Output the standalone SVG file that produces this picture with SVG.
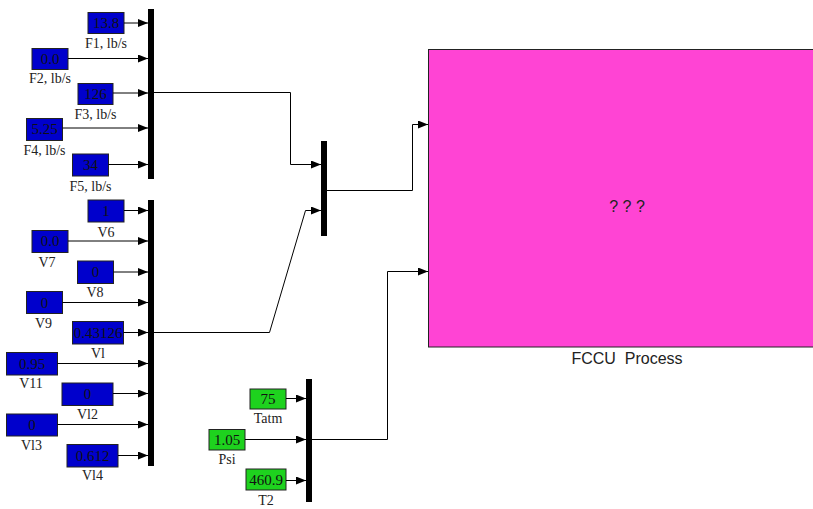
<svg xmlns="http://www.w3.org/2000/svg" width="813" height="509" viewBox="0 0 813 509">
<style>
.bl{fill:#0000CC;stroke:#222;stroke-width:1}
.gr{fill:#1ED21E;stroke:#222;stroke-width:1}
.bar{fill:#000}
.v{font-family:"Liberation Serif",serif;font-size:15px;fill:#111;text-anchor:middle}
.lb{font-family:"Liberation Serif",serif;font-size:14px;fill:#222;text-anchor:middle}
.ln{fill:none;stroke:#000;stroke-width:1}
.ar{marker-end:url(#ah)}
.sn{font-family:"Liberation Sans",Arial,sans-serif;font-size:16px;fill:#222;text-anchor:middle;white-space:pre}
</style>
<defs>
<marker id="ah" markerUnits="userSpaceOnUse" markerWidth="10" markerHeight="8" refX="10" refY="4" orient="auto">
<path d="M0,0 L10,4 L0,8 Z" fill="#000"/>
</marker>
</defs>
<rect width="813" height="509" fill="#fff"/>

<g id="process">
<rect x="428.5" y="49.5" width="400" height="297.5" fill="#FF44D4" stroke="#222" stroke-width="1"/>
<text class="sn" x="627" y="212">? ? ?</text>
<text class="sn" x="627" y="364">FCCU  Process</text>
</g>

<g id="mux1"><rect class="bar" x="148" y="9" width="6" height="170"/></g>
<g id="mux2"><rect class="bar" x="148" y="200" width="6" height="266"/></g>
<g id="mux3"><rect class="bar" x="306" y="379" width="6" height="123"/></g>
<g id="mux4"><rect class="bar" x="321" y="141" width="6" height="95"/></g>

<g id="F1"><rect class="bl" x="88" y="12.5" width="36" height="21"/><text class="v" x="106" y="28">13.8</text><text class="lb" x="106" y="48">F1, lb/s</text></g>
<g id="F2"><rect class="bl" x="32" y="48.5" width="36" height="21"/><text class="v" x="50" y="64">0.0</text><text class="lb" x="50" y="83">F2, lb/s</text></g>
<g id="F3"><rect class="bl" x="78" y="83.5" width="35" height="21"/><text class="v" x="95.5" y="99">126</text><text class="lb" x="95.5" y="119">F3, lb/s</text></g>
<g id="F4"><rect class="bl" x="26.5" y="118.5" width="36" height="22"/><text class="v" x="44.5" y="134">5.25</text><text class="lb" x="44.5" y="155">F4, lb/s</text></g>
<g id="F5"><rect class="bl" x="72.5" y="154" width="36" height="22"/><text class="v" x="90.5" y="170">34</text><text class="lb" x="90.5" y="191">F5, lb/s</text></g>

<g id="V6"><rect class="bl" x="88" y="200" width="36" height="22"/><text class="v" x="106" y="216">1</text><text class="lb" x="106" y="237">V6</text></g>
<g id="V7"><rect class="bl" x="32" y="230.5" width="36" height="22"/><text class="v" x="50" y="246">0.0</text><text class="lb" x="47" y="267">V7</text></g>
<g id="V8"><rect class="bl" x="77.5" y="261" width="36" height="22.5"/><text class="v" x="95.5" y="277">0</text><text class="lb" x="95" y="297">V8</text></g>
<g id="V9"><rect class="bl" x="26.5" y="291.5" width="36" height="22"/><text class="v" x="44.5" y="308">0</text><text class="lb" x="43.5" y="328">V9</text></g>
<g id="Vl"><rect class="bl" x="72.5" y="321.5" width="51" height="22.5"/><text class="v" x="98" y="338">0.43126</text><text class="lb" x="98" y="358">Vl</text></g>
<g id="V11"><rect class="bl" x="6.5" y="352.5" width="51" height="22.5"/><text class="v" x="32" y="369">0.95</text><text class="lb" x="31" y="388">V11</text></g>
<g id="Vl2"><rect class="bl" x="62" y="383" width="51" height="22.5"/><text class="v" x="87.5" y="399">0</text><text class="lb" x="87.5" y="419">Vl2</text></g>
<g id="Vl3"><rect class="bl" x="6.5" y="414" width="51" height="22"/><text class="v" x="32" y="430">0</text><text class="lb" x="31.5" y="450">Vl3</text></g>
<g id="Vl4"><rect class="bl" x="67" y="444.5" width="51" height="22.5"/><text class="v" x="92.5" y="461">0.612</text><text class="lb" x="92.5" y="480">Vl4</text></g>

<g id="Tatm"><rect class="gr" x="250" y="389" width="36" height="20"/><text class="v" x="268" y="404">75</text><text class="lb" x="268" y="423">Tatm</text></g>
<g id="Psi"><rect class="gr" x="209" y="429.5" width="36" height="20.5"/><text class="v" x="227" y="445">1.05</text><text class="lb" x="227" y="464">Psi</text></g>
<g id="T2"><rect class="gr" x="246" y="469" width="40" height="21"/><text class="v" x="266" y="485">460.9</text><text class="lb" x="266" y="505">T2</text></g>

<g id="connectors">
<path class="ln ar" d="M124,23 H148"/>
<path class="ln ar" d="M68,58.5 H148"/>
<path class="ln ar" d="M113,93 H148"/>
<path class="ln ar" d="M62.5,128 H148"/>
<path class="ln ar" d="M108.5,164.5 H148"/>
<path class="ln ar" d="M124,210.5 H148"/>
<path class="ln ar" d="M68,241 H148"/>
<path class="ln ar" d="M113.5,272 H148"/>
<path class="ln ar" d="M62.5,302.5 H148"/>
<path class="ln ar" d="M123.5,332.5 H148"/>
<path class="ln ar" d="M57.5,363.5 H148"/>
<path class="ln ar" d="M113,393.5 H148"/>
<path class="ln ar" d="M57.5,424.5 H148"/>
<path class="ln ar" d="M118,455.5 H148"/>
<path class="ln ar" d="M286,398.5 H306"/>
<path class="ln ar" d="M245,439.5 H306"/>
<path class="ln ar" d="M286,480.5 H306"/>
<path class="ln ar" d="M154,92.5 H290.5 V164.5 H321"/>
<path class="ln ar" d="M154,332.5 H269.5 L305.5,210.5 H321"/>
<path class="ln ar" d="M327,190.5 H412.5 V124.5 H428"/>
<path class="ln ar" d="M312,439.5 H387.5 V271.5 H428"/>
</g>
</svg>
